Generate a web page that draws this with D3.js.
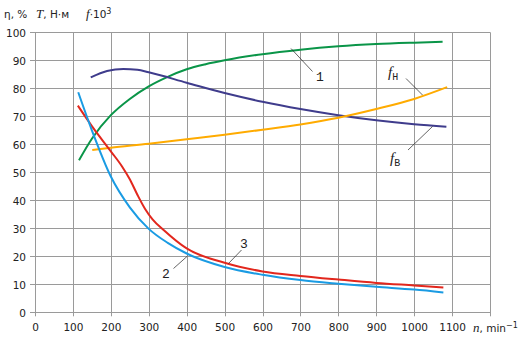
<!DOCTYPE html>
<html>
<head>
<meta charset="utf-8">
<script src="https://cdn.jsdelivr.net/npm/d3@7"></script>
<style>
  body { margin: 0; background: #fff; }
  svg { display: block; }
</style>
</head>
<body>
<svg id="chart" width="530" height="340"></svg>
<script>
// ---- data (n in min^-1, values in chart units) ----
const xTicks = [0, 100, 200, 300, 400, 500, 600, 700, 800, 900, 1000, 1100, 1200];
const yTicks = [0, 10, 20, 30, 40, 50, 60, 70, 80, 90, 100];

const curve1Eta = [[116,54.3],[150,62],[200,70.4],[250,76.2],[300,80.7],[350,84.1],[400,86.8],[450,88.6],[500,90.0],[600,92.2],[700,93.8],[800,95.0],[900,95.8],[1000,96.3],[1075,96.6]];
const curveFB = [[147,83.9],[190,86.2],[233,86.9],[270,86.6],[300,85.7],[400,82.0],[500,78.3],[600,75.2],[700,72.6],[800,70.4],[900,68.6],[1000,67.2],[1085,66.3]];
const curveFH = [[151,58],[200,58.8],[300,60.2],[400,61.8],[500,63.4],[600,65.2],[700,67.1],[800,69.5],[900,72.6],[1000,76.2],[1087,80.4]];
const curve2T = [[114,78.6],[150,65],[200,48.5],[250,37.5],[300,29.8],[350,24.8],[400,21],[500,16.2],[600,13.4],[700,11.5],[800,10.2],[900,9.1],[1000,8.1],[1077,7.1]];
const curve3 = [[113,73.8],[150,66.5],[200,57.5],[230,52],[250,47.5],[270,42],[290,37],[310,33.2],[340,29.3],[400,22.8],[500,17.7],[600,14.6],[700,13.0],[800,11.7],[900,10.5],[1000,9.6],[1077,8.9]];

const svg = d3.select("#chart");
const x = d3.scaleLinear().domain([0, 1200]).range([35, 490]);
const y = d3.scaleLinear().domain([0, 100]).range([312.3, 32.3]);

const gridColor = "#9a9a9a";
const textColor = "#222";
const tickFont = "DejaVu Sans, Verdana, sans-serif";

// grid
const grid = svg.append("g");
grid.selectAll("line.v").data(xTicks).join("line")
  .attr("x1", d => Math.round(x(d)) + 0.5).attr("x2", d => Math.round(x(d)) + 0.5)
  .attr("y1", y(100)).attr("y2", y(0) + 4)
  .attr("stroke", gridColor).attr("stroke-width", 1);
grid.selectAll("line.h").data(yTicks).join("line")
  .attr("x1", x(0) - 5).attr("x2", x(1200))
  .attr("y1", d => Math.round(y(d)) + 0.5).attr("y2", d => Math.round(y(d)) + 0.5)
  .attr("stroke", gridColor).attr("stroke-width", 1);

// tick labels via d3 axes
const xAxis = d3.axisBottom(x).tickValues(xTicks)
  .tickFormat(d => d === 1200 ? "" : d).tickSize(0).tickPadding(0);
const gx = svg.append("g").attr("transform", `translate(0, ${y(0) + 19})`).call(xAxis);
gx.select(".domain").remove();
gx.selectAll("text").attr("font-family", tickFont).attr("font-size", "10.5px")
  .attr("fill", textColor).attr("dy", 0).attr("y", 0);

const yAxis = d3.axisLeft(y).tickValues(yTicks).tickSize(0).tickPadding(0);
const gy = svg.append("g").attr("transform", `translate(26, 0)`).call(yAxis);
gy.select(".domain").remove();
gy.selectAll("text").attr("font-family", tickFont).attr("font-size", "10.5px")
  .attr("fill", textColor).attr("dy", "0.36em").attr("x", 0);

// curves
const line = d3.line().x(d => x(d[0])).y(d => y(d[1])).curve(d3.curveMonotoneX);
const series = [
  { data: curve1Eta, color: "#0a9548" },
  { data: curveFB, color: "#3f3c8c" },
  { data: curveFH, color: "#ffab00" },
  { data: curve3, color: "#e2271d" },
  { data: curve2T, color: "#1a9be3" }
];
svg.append("g").selectAll("path").data(series).join("path")
  .attr("d", d => line(d.data)).attr("fill", "none")
  .attr("stroke", d => d.color).attr("stroke-width", 2)
  .attr("stroke-linecap", "butt");

// leader lines
const leaders = [
  [291, 48.5, 312.5, 71.5],
  [406, 78.5, 422.5, 95],
  [408, 150, 432.5, 126.5],
  [241.5, 250, 228.5, 263.5],
  [173.5, 268.5, 187.5, 256]
];
svg.append("g").selectAll("line").data(leaders).join("line")
  .attr("x1", d => d[0]).attr("y1", d => d[1]).attr("x2", d => d[2]).attr("y2", d => d[3])
  .attr("stroke", "#222").attr("stroke-width", 0.7);

// curve labels
const labFont = "Liberation Mono, DejaVu Sans Mono, monospace";
function lab(tx, ty, t) {
  svg.append("text").attr("x", tx).attr("y", ty).attr("font-family", labFont)
    .attr("font-size", "13px").attr("fill", "#222").text(t);
}
lab(316, 81, "1");
lab(240, 248, "3");
lab(162, 278, "2");
function fLab(tx, ty, sub) {
  const t = svg.append("text").attr("x", tx).attr("y", ty).attr("fill", "#222");
  t.append("tspan").attr("font-family", "Liberation Serif, serif").attr("font-style", "italic")
    .attr("font-size", "15px").text("f");
  t.append("tspan").attr("font-family", labFont).attr("font-size", "10px").attr("dy", 3).text(sub);
}
fLab(388, 77, "Н");
fLab(390, 163, "В");

// top title
const title = svg.append("text").attr("x", 4).attr("y", 18).attr("fill", textColor)
  .attr("font-family", tickFont).attr("font-size", "10.5px");
title.append("tspan").text("η, %");
title.append("tspan").attr("x", 36).attr("font-family", "Liberation Serif, serif")
  .attr("font-style", "italic").attr("font-size", "13px").text("T");
title.append("tspan").text(", Н·м");
title.append("tspan").attr("x", 86).attr("font-family", "Liberation Serif, serif")
  .attr("font-style", "italic").attr("font-size", "13px").text("f");
title.append("tspan").text("·10");
title.append("tspan").attr("font-size", "8px").attr("dy", -4).text("3");

// x axis title
const xt = svg.append("text").attr("x", 473).attr("y", 332).attr("fill", textColor)
  .attr("font-family", tickFont).attr("font-size", "10.5px");
xt.append("tspan").attr("font-family", "Liberation Serif, serif").attr("font-style", "italic")
  .attr("font-size", "13px").text("n");
xt.append("tspan").text(", min");
xt.append("tspan").attr("font-size", "8px").attr("dy", -4).text("−1");
</script>
</body>
</html>
